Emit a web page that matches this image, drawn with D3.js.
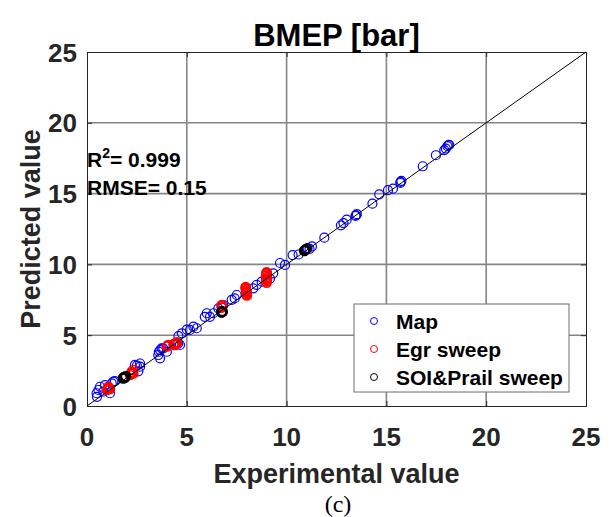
<!DOCTYPE html>
<html><head><meta charset="utf-8">
<script src="https://cdn.jsdelivr.net/npm/d3@7"></script>
<style>
body{margin:0;background:#fff}
text{font-family:"Liberation Sans",Arial,Helvetica,sans-serif;font-weight:bold}
</style>
</head><body>
<svg id="chart" width="613" height="517"></svg>
<script>
// ---- data ----
const title = "BMEP [bar]";
const xLabel = "Experimental value";
const yLabel = "Predicted value";
const caption = "(c)";
const xTicks = [0, 5, 10, 15, 20, 25];
const yTicks = [0, 5, 10, 15, 20, 25];
const seriesNames = ["Map", "Egr sweep", "SOI&Prail sweep"];
const seriesColors = ["#0000ff", "#ff0000", "#000000"];
const statR2 = "0.999";
const statRMSE = "0.15";

const mapX = [0.5,0.48,0.57,0.65,0.82,0.9,1.15,1.24,1.32,1.4,
  2.4,2.5,2.57,2.66,2.66,
  3.57,3.6,3.66,3.66,3.74,3.82,4.0,4.57,4.66,
  4.58,4.75,5.0,5.16,5.33,5.5,
  5.9,6.0,6.16,6.33,6.58,6.83,
  7.25,7.4,7.5,
  8.33,8.5,8.75,9.17,9.33,
  9.67,9.92,10.3,10.6,
  11.05,11.15,11.27,11.89,12.72,12.85,13.01,13.45,13.48,13.52,
  14.3,14.64,15.08,15.33,15.7,15.71,15.75,
  16.82,17.48,17.9,17.98,18.06,18.11,18.15];
const mapY = [0.65,0.9,1.13,1.36,1.01,1.48,0.9,1.6,1.72,1.75,
  2.9,2.85,2.45,3.0,2.78,
  3.6,3.83,3.37,3.95,4.07,4.07,3.83,4.43,4.31,
  4.94,5.13,5.4,5.37,5.6,5.49,
  6.3,6.55,6.3,6.55,6.9,7.13,
  7.5,7.6,7.84,
  8.31,8.55,8.78,9.0,9.37,
  10.1,9.96,10.66,10.7,
  11.15,11.1,11.27,11.89,12.76,12.92,13.16,13.42,13.47,13.55,
  14.29,14.95,15.24,15.35,15.75,15.83,15.9,
  16.93,17.71,18.07,18.18,18.35,18.42,18.45];

const egrX = [0.99,1.02,1.05,1.07,1.1,1.12,1.15,
  2.15,2.2,2.24,2.28,2.32,2.32,
  4.0,4.05,4.07,4.33,4.38,4.41,4.45,4.5,4.5,4.47,4.42,
  6.75,6.76,6.74,
  7.95,7.95,7.96,7.97,7.98,7.99,8.0,8.0,8.01,
  9.0,9.0,8.98,8.97,9.0,9.02,9.01,8.99,9.0,9.01,8.98];
const egrY = [1.13,1.18,1.22,1.36,1.28,1.25,1.2,
  2.19,2.3,2.42,2.36,2.3,2.54,
  4.2,4.25,4.31,4.35,4.4,4.31,4.4,4.43,4.5,4.47,4.36,
  7.13,6.95,7.05,
  8.4,8.35,8.28,8.2,8.1,8.05,8.0,7.9,7.8,
  9.45,9.4,9.3,9.2,9.1,9.0,8.9,8.8,8.7,9.35,8.95];

const soiX = [1.8,1.82,1.85,1.87,1.88,1.9,1.92,1.95, 6.73,6.75,6.75,6.78,6.8, 10.88,10.9,10.93,10.95,11.0];
const soiY = [1.95,2.0,2.05,1.97,2.02,2.0,2.08,2.1, 6.62,6.6,6.7,6.68,6.65, 10.98,10.95,11.02,11.05,11.1];

// ---- layout ----
const svg = d3.select("#chart");
const L = 87, R = 586, T = 52, B = 406;
const x = d3.scaleLinear().domain([0, 25]).range([L, R]);
const y = d3.scaleLinear().domain([0, 25]).range([B, T]);
const ink = "#262626";

// grid
const g = svg.append("g");
g.selectAll(".gx").data(xTicks.slice(1, -1)).enter().append("line")
  .attr("x1", d => x(d)).attr("x2", d => x(d)).attr("y1", T).attr("y2", B)
  .attr("stroke", "#858585").attr("stroke-width", 1.6);
g.selectAll(".gy").data(yTicks.slice(1, -1)).enter().append("line")
  .attr("y1", d => y(d)).attr("y2", d => y(d)).attr("x1", L).attr("x2", R)
  .attr("stroke", "#858585").attr("stroke-width", 1.6);

// axes (ticks inside on all sides)
const axB = d3.axisBottom(x).tickValues(xTicks).tickSize(-5).tickFormat("");
const axT = d3.axisTop(x).tickValues(xTicks).tickSize(-5).tickFormat("");
const axL = d3.axisLeft(y).tickValues(yTicks).tickSize(-5).tickFormat("");
const axR = d3.axisRight(y).tickValues(yTicks).tickSize(-5).tickFormat("");
[[axB, `translate(0,${B})`], [axT, `translate(0,${T})`], [axL, `translate(${L},0)`], [axR, `translate(${R},0)`]]
  .forEach(([a, t]) => {
    const s = svg.append("g").attr("transform", t).call(a);
    s.selectAll("path").attr("stroke", ink).attr("stroke-width", 1);
    s.selectAll("line").attr("stroke", ink);
  });

// tick labels
svg.selectAll(".xl").data(xTicks).enter().append("text")
  .attr("x", d => x(d)).attr("y", B + 40).attr("text-anchor", "middle")
  .attr("font-size", 26).attr("fill", ink).text(d => d);
svg.selectAll(".yl").data(yTicks).enter().append("text")
  .attr("x", L - 10).attr("y", d => y(d) + 9.5).attr("text-anchor", "end")
  .attr("font-size", 26).attr("fill", ink).text(d => d);

// points
function pts(X, Y, color, w) {
  svg.append("g").selectAll("circle").data(X.map((v, i) => [v, Y[i]])).enter().append("circle")
    .attr("cx", d => x(d[0])).attr("cy", d => y(d[1])).attr("r", 4.5)
    .attr("fill", "none").attr("stroke", color).attr("stroke-width", w);
}
pts(mapX, mapY, seriesColors[0], 1.2);
pts(egrX, egrY, seriesColors[1], 1.6);
pts(soiX, soiY, seriesColors[2], 1.6);

// diagonal y = x
svg.append("line").attr("x1", x(0)).attr("y1", y(0)).attr("x2", x(25)).attr("y2", y(25))
  .attr("stroke", "#000").attr("stroke-width", 1);

// title and labels
svg.append("text").attr("x", (L + R) / 2).attr("y", 46).attr("text-anchor", "middle")
  .attr("font-size", 31).attr("fill", "#000").text(title);
svg.append("text").attr("x", (L + R) / 2).attr("y", 483).attr("text-anchor", "middle")
  .attr("font-size", 27).attr("fill", ink).text(xLabel);
svg.append("text").attr("transform", `translate(40,${(T + B) / 2}) rotate(-90)`).attr("text-anchor", "middle")
  .attr("font-size", 27).attr("fill", ink).text(yLabel);
svg.append("text").attr("x", 338).attr("y", 512).attr("text-anchor", "middle")
  .style("font-family", "'Liberation Serif','Times New Roman',serif").style("font-weight", "normal")
  .attr("font-size", 24).attr("fill", "#000").text(caption);

// stats text
const t1 = svg.append("text").attr("x", 87).attr("y", 167).attr("font-size", 21).attr("fill", "#000");
t1.append("tspan").text("R");
t1.append("tspan").attr("dy", -9).attr("font-size", 14).text("2");
t1.append("tspan").attr("dy", 9).text("= " + statR2);
svg.append("text").attr("x", 87).attr("y", 195).attr("font-size", 21).attr("fill", "#000").text("RMSE= " + statRMSE);

// legend
const lg = svg.append("g");
lg.append("rect").attr("x", 354).attr("y", 304).attr("width", 215).attr("height", 88)
  .attr("fill", "#fff").attr("stroke", "#6e6e6e").attr("stroke-width", 1);
const ly = [321, 349, 377];
seriesNames.forEach((n, i) => {
  lg.append("circle").attr("cx", 374).attr("cy", ly[i]).attr("r", 3.5)
    .attr("fill", "none").attr("stroke", seriesColors[i]).attr("stroke-width", 1);
  lg.append("text").attr("x", 396).attr("y", ly[i] + 7.5).attr("font-size", 21).attr("fill", "#000").text(n);
});
</script>
</body></html>
